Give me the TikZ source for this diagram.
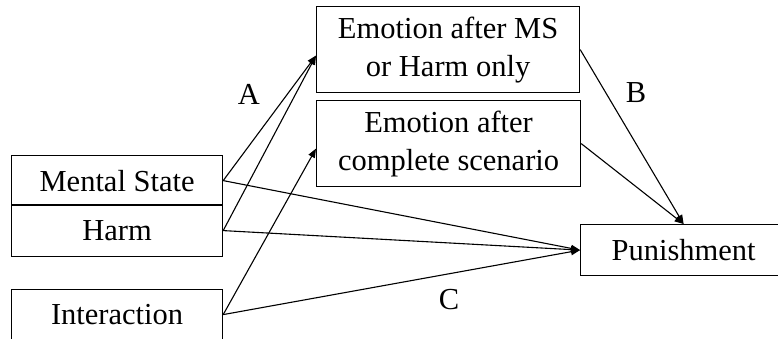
\documentclass[tikz,border=0pt]{standalone}
\usepackage{fontspec}
\setmainfont{Liberation Serif}
\usetikzlibrary{arrows.meta,calc}
\begin{document}
\begin{tikzpicture}[x=1pt,y=-1pt,
  box/.style={draw, line width=1.2pt, inner sep=0pt, anchor=north west,
    font=\fontsize{30.5}{38}\selectfont, align=center},
  arr/.style={line width=1.1pt, -{Triangle[length=9pt,width=7pt]}},
  lbl/.style={font=\fontsize{30.5}{34}\selectfont}]
\clip (0,0) rectangle (778,339);
\fill[white] (0,0) rectangle (778,339);
\node[box, minimum width=211pt, minimum height=50pt] (ms) at (11,155) {Mental State};
\node[box, minimum width=211pt, minimum height=52pt] (harm) at (11,204) {Harm};
\node[box, minimum width=211pt, minimum height=50pt] (inter) at (11,289) {Interaction};
\node[box, minimum width=263pt, minimum height=86pt] (em) at (316,6) {Emotion after MS\\or Harm only};
\node[box, minimum width=264pt, minimum height=86pt] (ec) at (316,100) {Emotion after\\complete scenario};
\node[box, minimum width=206pt, minimum height=51pt] (pun) at (580,224) {Punishment};
\coordinate (emin) at ($(em.west)+(0,6)$);
\coordinate (ecin) at ($(ec.west)+(0,5)$);
\draw[arr] (ms.east) -- (emin);
\draw[arr] (harm.east) -- (emin);
\draw[arr] (inter.east) -- (ecin);
\draw[arr] (ms.east) -- (pun.west);
\draw[arr] (harm.east) -- (pun.west);
\draw[arr] (inter.east) -- (pun.west);
\draw[arr] (em.east) -- (pun.north);
\draw[arr] (ec.east) -- (pun.north);
\node[lbl] (la) at (249,94) {A};
\node[lbl] (lb) at (636,93) {B};
\node[lbl] (lc) at (449,300) {C};
\end{tikzpicture}
\end{document}
